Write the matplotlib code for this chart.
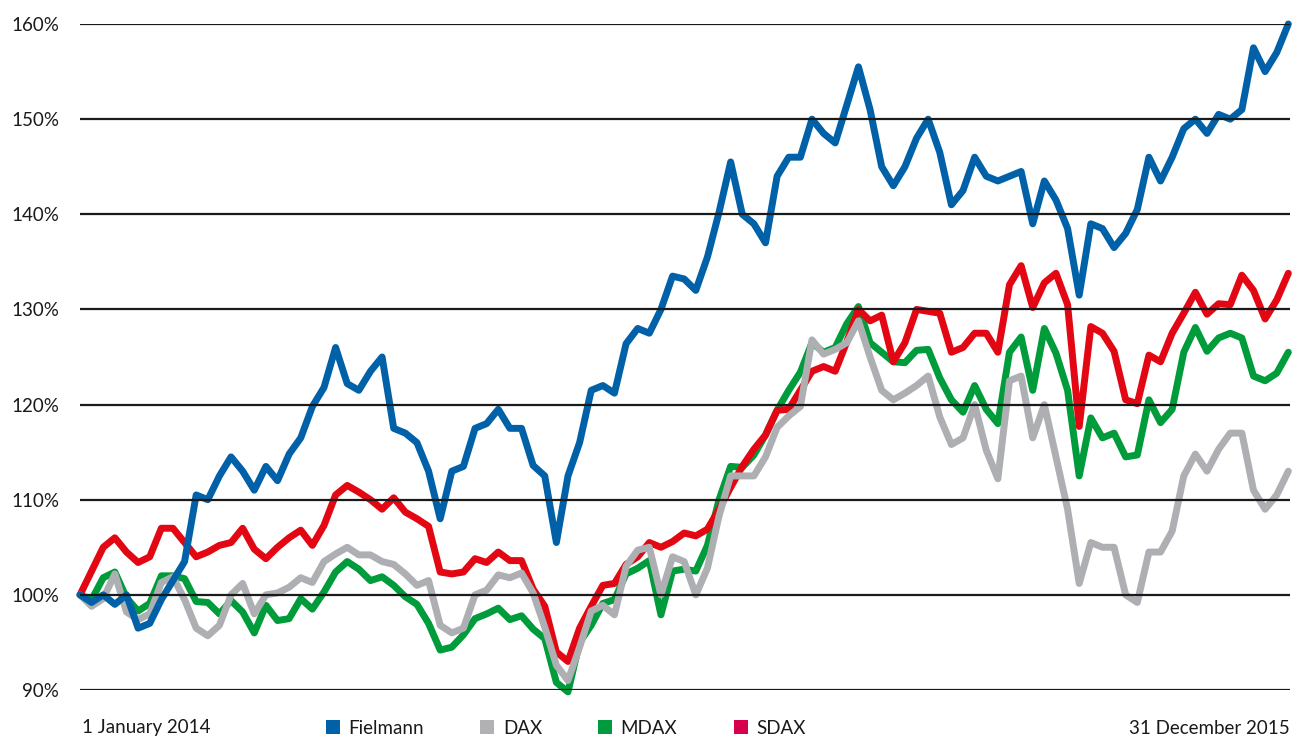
import matplotlib
matplotlib.use("Agg")
import matplotlib.pyplot as plt
from matplotlib.patches import Patch
import pandas as pd

# ---- data (weekly, indexed to 100 on 1 January 2014) ----
start_date = "2014-01-01"
end_date = "2015-12-31"
n_weeks = 105

fielmann = [100, 99.2, 100, 99, 100, 96.5, 97, 99.5, 101.5, 103.5,
            110.5, 110, 112.5, 114.5, 113, 111, 113.5, 112, 114.8, 116.5,
            119.8, 121.8, 126, 122.2, 121.5, 123.5, 125, 117.5, 117, 116,
            113, 108, 113, 113.5, 117.5, 118, 119.5, 117.5, 117.5, 113.6,
            112.5, 105.5, 112.5, 116, 121.5, 122, 121.2, 126.4, 128, 127.5,
            130, 133.5, 133.2, 132, 135.5, 140.2, 145.5, 140, 139, 137,
            144, 146, 146, 150, 148.5, 147.5, 151.5, 155.5, 151, 145,
            143, 145, 148, 150, 146.5, 141, 142.5, 146, 144, 143.5,
            144, 144.5, 139, 143.5, 141.5, 138.5, 131.5, 139, 138.5, 136.5,
            138, 140.5, 146, 143.5, 146, 149, 150, 148.5, 150.5, 150,
            151, 157.5, 155, 157, 160]

dax = [100, 98.8, 99.6, 102.2, 98.2, 97.4, 98, 101.3, 101.9, 99.5,
       96.5, 95.7, 96.8, 100, 101.2, 98, 100, 100.2, 100.8, 101.8,
       101.3, 103.5, 104.3, 105, 104.2, 104.2, 103.5, 103.2, 102.2, 101,
       101.5, 96.8, 96, 96.5, 100, 100.5, 102.1, 101.8, 102.3, 100.2,
       96.6, 92.6, 91, 94.5, 98.3, 98.9, 97.9, 103, 104.7, 105,
       100, 104, 103.5, 100, 102.8, 108.3, 112.5, 112.5, 112.5, 114.5,
       117.6, 118.8, 119.8, 126.8, 125.3, 125.8, 126.5, 128.8, 125, 121.5,
       120.5, 121.2, 122, 123, 118.7, 115.8, 116.5, 120, 115.2, 112.2,
       122.5, 123, 116.5, 120, 114.5, 109, 101.2, 105.5, 105, 105,
       100, 99.2, 104.5, 104.5, 106.7, 112.5, 114.8, 113, 115.3, 117,
       117, 111, 109, 110.5, 113]

mdax = [100, 99.5, 101.8, 102.4, 99.7, 98.3, 99.1, 102, 102, 101.7,
        99.3, 99.2, 98, 99.4, 98.2, 96, 98.9, 97.3, 97.5, 99.6,
        98.5, 100.3, 102.4, 103.5, 102.7, 101.5, 101.9, 101, 99.8, 99,
        97, 94.2, 94.5, 95.8, 97.5, 98, 98.6, 97.4, 97.8, 96.4,
        95.4, 90.8, 89.8, 95, 96.8, 99.1, 99.5, 102.2, 102.8, 103.6,
        97.9, 102.5, 102.7, 102.5, 105.2, 110, 113.5, 113.4, 114.7, 116.8,
        119.4, 121.5, 123.4, 126.5, 125.5, 126, 128.5, 130.3, 126.5, 125.5,
        124.5, 124.4, 125.7, 125.8, 122.8, 120.5, 119.2, 122, 119.5, 118,
        125.5, 127.1, 121.5, 128, 125.4, 121.5, 112.5, 118.6, 116.5, 117,
        114.5, 114.7, 120.5, 118.1, 119.5, 125.5, 128.1, 125.6, 127, 127.5,
        127, 123, 122.5, 123.3, 125.5]

sdax = [100, 102.5, 105, 106, 104.5, 103.4, 104, 107, 107, 105.5,
        104, 104.5, 105.2, 105.5, 107, 104.8, 103.8, 105, 106, 106.8,
        105.2, 107.3, 110.5, 111.5, 110.8, 110, 109, 110.2, 108.7, 108,
        107.2, 102.4, 102.2, 102.4, 103.8, 103.4, 104.5, 103.6, 103.6, 100.6,
        98.8, 94, 93, 96.5, 98.8, 101, 101.2, 103.2, 104, 105.5,
        105, 105.6, 106.5, 106.2, 106.9, 109, 111.3, 113.5, 115.3, 116.8,
        119.4, 119.5, 121.5, 123.5, 124, 123.5, 126.6, 130, 128.8, 129.4,
        124.5, 126.5, 130, 129.8, 129.6, 125.5, 126, 127.5, 127.5, 125.5,
        132.6, 134.6, 130.2, 132.8, 133.8, 130.5, 117.7, 128.2, 127.5, 125.6,
        120.5, 120.1, 125.2, 124.5, 127.5, 129.6, 131.8, 129.5, 130.6, 130.5,
        133.6, 132, 129, 131, 133.8]

y_ticks = [90, 100, 110, 120, 130, 140, 150, 160]
series_names = ["Fielmann", "DAX", "MDAX", "SDAX"]
start_label = "1 January 2014"
end_label = "31 December 2015"

# ---- styling ----
line_colors = {"Fielmann": "#0061A8", "DAX": "#AEAFB3", "MDAX": "#009B3A", "SDAX": "#E30613"}
legend_colors = {"Fielmann": "#0061A8", "DAX": "#B1B1B4", "MDAX": "#009B3E", "SDAX": "#D7004E"}
FONT = "Lato"
FS = 13.5

dates = pd.date_range(start_date, periods=n_weeks, freq="7D")

W, H = 1298, 738
fig = plt.figure(figsize=(W / 100, H / 100), dpi=100)
ax = fig.add_axes([80 / W, (H - 690) / H, 1210 / W, 666 / H])

data = {"Fielmann": fielmann, "DAX": dax, "MDAX": mdax, "SDAX": sdax}
for z, name in zip([2.0, 2.1, 2.2, 2.3], ["MDAX", "SDAX", "DAX", "Fielmann"]):
    ax.plot(dates, data[name], color=line_colors[name], lw=5.0,
            solid_joinstyle="round", solid_capstyle="round", zorder=z, clip_on=False)

for v in y_ticks:
    ax.axhline(v, color="#1a1a1a", lw=1.6, zorder=3)

ax.set_xlim(pd.Timestamp(start_date), pd.Timestamp(end_date))
ax.set_ylim(y_ticks[0], y_ticks[-1])
ax.set_yticks(y_ticks)
ax.set_yticklabels([f"{v}%" for v in y_ticks], fontfamily=FONT, fontsize=FS, color="#1a1a1a")
ax.tick_params(axis="y", length=0, pad=15)
ax.set_xticks([])
for s in ax.spines.values():
    s.set_visible(False)

fig.text(82 / W, (H - 728) / H, start_label, ha="left", va="center",
         fontfamily=FONT, fontsize=FS, color="#1a1a1a")
fig.text(1290 / W, (H - 728) / H, end_label, ha="right", va="center",
         fontfamily=FONT, fontsize=FS, color="#1a1a1a")

handles = [Patch(facecolor=legend_colors[n], edgecolor="none", label=n) for n in series_names]
leg = fig.legend(handles=handles, loc="center left", bbox_to_anchor=(326 / W, (H - 728) / H),
                 ncol=4, frameon=False, borderpad=0, borderaxespad=0,
                 handlelength=0.75, handleheight=0.75, handletextpad=0.45,
                 columnspacing=3.0, prop={"family": FONT, "size": FS})
for t in leg.get_texts():
    t.set_color("#1a1a1a")

fig.savefig("out.png", dpi=100)
